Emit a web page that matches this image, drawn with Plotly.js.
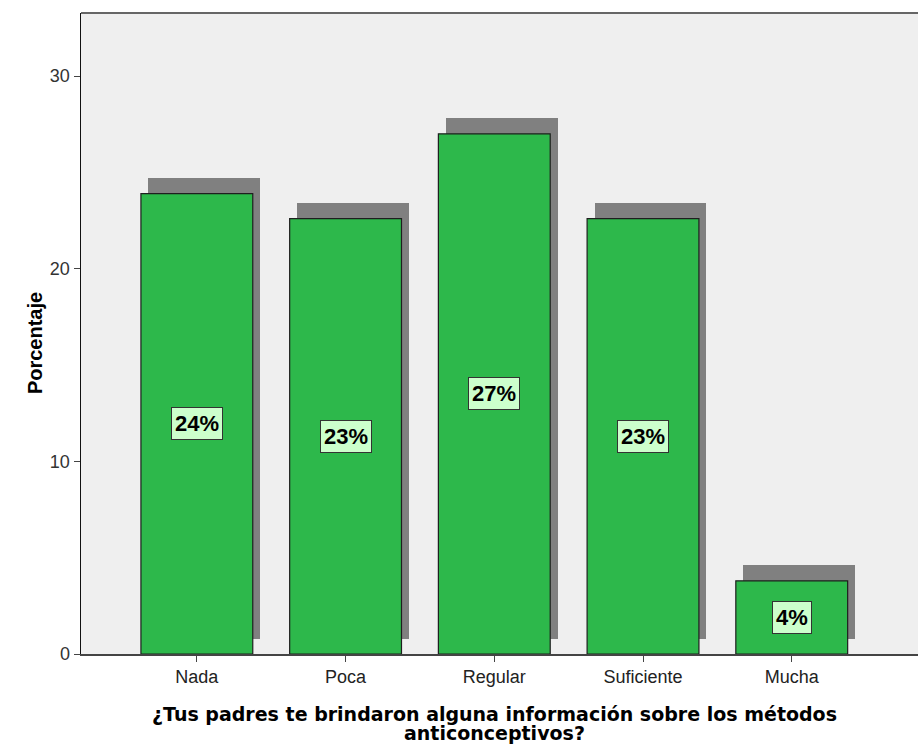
<!DOCTYPE html>
<html>
<head>
<meta charset="utf-8">
<script src="https://cdn.plot.ly/plotly-3.0.1.min.js"></script>
<style>html,body{margin:0;padding:0;background:#fff;}#chart{width:918px;height:746px;}</style>
</head>
<body>
<div id="chart"></div>
<script>
const categories = ["Nada", "Poca", "Regular", "Suficiente", "Mucha"];
const percentages = [23.9, 22.6, 27.0, 22.6, 3.8];
const labels = ["24%", "23%", "27%", "23%", "4%"];
const yTicks = [0, 10, 20, 30];
const xTitleLines = ["¿Tus padres te brindaron alguna información sobre los métodos", "anticonceptivos?"];
const yTitle = "Porcentaje";

const barWidth = 0.752;
const shadowBase = 0.8;
const FONT = 'Liberation Sans, Arial, sans-serif';
const TFONT = 'DejaVu Sans, sans-serif';

const shadow = {
  type: 'bar', x: categories, y: percentages, base: shadowBase,
  width: barWidth, offset: -barWidth/2 + 0.05,
  marker: {color: '#808080', line: {width: 0}},
  hoverinfo: 'skip', showlegend: false
};
const bars = {
  type: 'bar', x: categories, y: percentages,
  width: barWidth, offset: -barWidth/2,
  marker: {color: '#2db84b', line: {color: '#1e1e1e', width: 1.2}},
  showlegend: false
};

const annotations = categories.map((c, i) => ({
  x: c, y: percentages[i] / 2, xref: 'x', yref: 'y',
  text: '<b>' + labels[i] + '</b>', showarrow: false,
  font: {family: FONT, size: 22, color: '#000'},
  bgcolor: '#ccffcc', bordercolor: '#333', borderwidth: 1, borderpad: 3
}));
annotations.push({
  xref: 'paper', yref: 'paper', x: 0, xshift: -59, y: 0.485, textangle: -90,
  text: '<b>' + yTitle + '</b>', showarrow: false,
  font: {family: FONT, size: 20, color: '#000'}
});
xTitleLines.forEach((line, i) => annotations.push({
  xref: 'paper', yref: 'paper', x: 0.494, y: 0, yshift: -60 - 19 * i, yanchor: 'middle',
  text: '<b>' + line + '</b>', showarrow: false,
  font: {family: TFONT, size: 19, color: '#000'}
}));

const layout = {
  width: 918, height: 746,
  margin: {l: 81, r: 0, t: 13, b: 92},
  paper_bgcolor: '#ffffff', plot_bgcolor: '#efefef',
  barmode: 'overlay', bargap: 0,
  font: {family: FONT},
  xaxis: {
    type: 'category', range: [-0.779, 4.849], showgrid: false, zeroline: false,
    showline: true, linecolor: '#444', linewidth: 1.5,
    ticks: 'outside', ticklen: 6, tickcolor: '#444', tickwidth: 1,
    tickfont: {family: FONT, size: 18, color: '#222'}, fixedrange: true
  },
  yaxis: {
    range: [0, 33.27], tickvals: yTicks, showgrid: false, zeroline: false,
    showline: true, linecolor: '#111', linewidth: 1.5,
    ticks: 'outside', ticklen: 6, tickcolor: '#444', tickwidth: 1,
    tickfont: {family: FONT, size: 18, color: '#333'}, fixedrange: true
  },
  shapes: [{type: 'line', xref: 'paper', yref: 'paper', x0: 0, x1: 1, y0: 1, y1: 1,
            line: {color: '#666', width: 2}}],
  annotations: annotations
};

Plotly.newPlot('chart', [shadow, bars], layout, {displayModeBar: false, staticPlot: true});
</script>
</body>
</html>
